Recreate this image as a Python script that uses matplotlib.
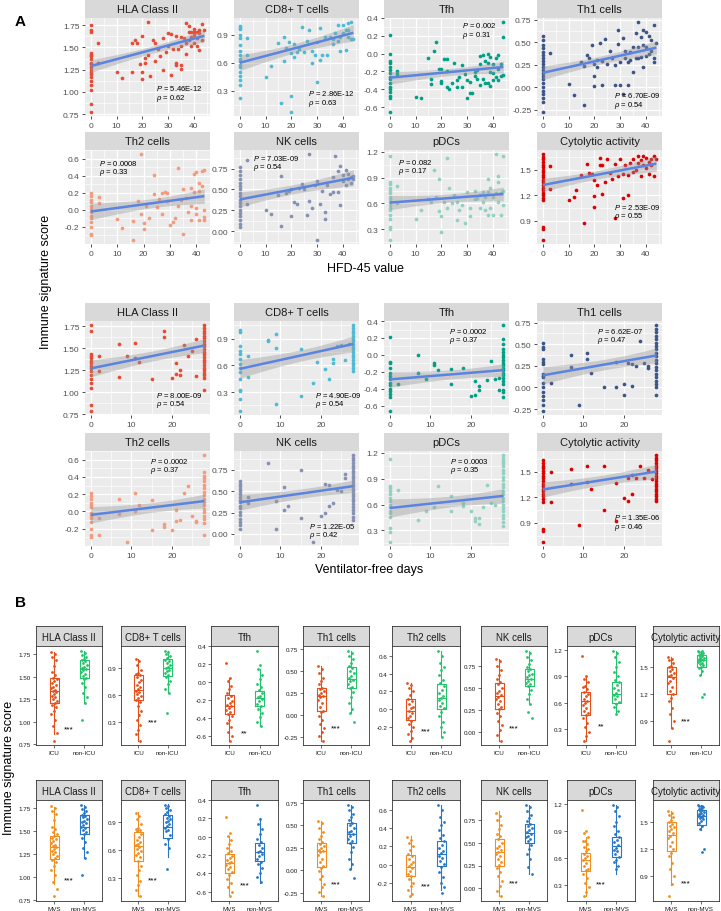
import numpy as np
import matplotlib
matplotlib.use("Agg")
import matplotlib.pyplot as plt
from matplotlib.ticker import FixedLocator, FormatStrFormatter

plt.rcParams["font.family"] = ["Liberation Sans", "DejaVu Sans"]
plt.rcParams["mathtext.fontset"] = "custom"
plt.rcParams["mathtext.it"] = "Liberation Sans:italic"
plt.rcParams["mathtext.rm"] = "Liberation Sans"
plt.rcParams["axes.unicode_minus"] = False

# ---------------------------------------------------------------------------
# Data
# ---------------------------------------------------------------------------

SIGNATURES = ["HLA Class II", "CD8+ T cells", "Tfh", "Th1 cells",
              "Th2 cells", "NK cells", "pDCs", "Cytolytic activity"]
SIG_COLORS = ["#E64B35", "#4DBBD5", "#00A087", "#3C5488",
              "#F39B7F", "#8491B4", "#91D1C2", "#DC0000"]

# --- HFD-45 value vs score: y values at x=0, plus other (x, y) points
HFD_HLA_AT0 = [1.75, 1.69, 1.67, 1.44, 1.42, 1.40, 1.37, 1.33, 1.31, 1.28, 1.25,
               1.22, 1.20, 1.17, 1.12, 1.08, 1.02, 0.86, 0.78]
HFD_HLA_PTS = [(3, 1.55), (3, 1.33), (10, 1.22), (12, 1.16), (16, 1.55), (16, 1.22),
               (17, 1.58), (18, 1.55), (19, 1.31), (20, 1.63), (20, 1.22), (20, 1.15),
               (21, 1.33), (21, 1.38), (22, 1.78), (22, 1.42), (23, 1.18), (24, 1.58),
               (25, 1.55), (25, 1.35), (26, 1.48), (27, 1.40), (28, 1.60), (28, 1.25),
               (29, 1.45), (30, 1.66), (30, 1.52), (31, 1.65), (31, 1.19), (32, 1.48),
               (33, 1.63), (33, 1.33), (33, 1.30), (34, 1.48), (35, 1.62), (35, 1.52),
               (35, 1.30), (35, 1.26), (36, 1.60), (37, 1.77), (37, 1.55), (37, 1.43),
               (38, 1.74), (38, 1.67), (38, 1.58), (39, 1.67), (39, 1.62), (39, 1.52),
               (40, 1.71), (40, 1.67), (40, 1.64), (40, 1.55), (41, 1.67), (41, 1.60),
               (41, 1.52), (42, 1.69), (42, 1.66), (42, 1.47), (43, 1.76), (43, 1.58),
               (44, 1.70)]

HFD_CD8_AT0 = [0.99, 0.97, 0.96, 0.90, 0.86, 0.79, 0.73, 0.68, 0.64, 0.62, 0.58,
               0.55, 0.50, 0.46, 0.42, 0.36, 0.22]
HFD_CD8_PTS = [(3, 0.86), (3, 0.68), (10, 0.45), (12, 0.57), (15, 0.81), (16, 0.17),
               (17, 0.88), (17, 0.62), (18, 0.76), (19, 0.82), (20, 0.70), (20, 0.25),
               (20, 0.08), (21, 0.80), (21, 0.66), (22, 0.72), (23, 0.75), (24, 0.98),
               (25, 0.71), (26, 0.83), (27, 0.95), (28, 0.73), (28, 0.60), (29, 0.68),
               (30, 0.82), (30, 0.40), (31, 0.63), (31, 0.97), (32, 0.68), (33, 0.87),
               (34, 0.68), (35, 0.88), (36, 0.85), (36, 0.80), (37, 0.92), (38, 0.83),
               (38, 1.00), (39, 0.88), (39, 0.73), (40, 0.92), (40, 1.00), (41, 0.95),
               (41, 0.74), (42, 1.02), (42, 0.88), (42, 0.95), (43, 1.03), (43, 0.85),
               (44, 0.85)]

HFD_TFH_AT0 = [0.21, 0.0, -0.08, -0.11, -0.15, -0.18, -0.22, -0.26, -0.29, -0.33,
               -0.37, -0.40, -0.43, -0.47, -0.50, -0.65]
HFD_TFH_PTS = [(3, -0.20), (3, -0.23), (10, -0.49), (12, -0.50), (15, -0.05), (16, -0.28),
               (16, -0.34), (17, 0.03), (18, 0.13), (19, -0.17), (20, -0.17), (20, -0.31),
               (20, -0.33), (21, -0.06), (22, -0.06), (22, -0.20), (22, -0.37), (23, -0.40),
               (24, -0.33), (25, -0.11), (26, -0.30), (26, -0.37), (27, -0.26), (28, -0.13),
               (28, -0.38), (29, -0.23), (30, -0.30), (30, -0.50), (31, -0.32), (31, -0.44),
               (32, -0.44), (33, -0.21), (33, -0.25), (34, -0.18), (34, -0.29), (35, -0.03),
               (35, -0.12), (35, -0.35), (36, -0.02), (36, -0.28), (37, -0.08), (37, -0.33),
               (38, 0.0), (38, -0.11), (38, -0.33), (39, -0.04), (39, -0.21), (39, -0.36),
               (40, -0.12), (40, -0.22), (40, -0.30), (41, -0.05), (41, -0.26), (42, -0.01),
               (42, -0.17), (42, -0.30), (43, -0.12), (43, -0.25), (44, 0.35), (44, 0.19),
               (44, -0.24)]

HFD_TH1_AT0 = [0.57, 0.53, 0.47, 0.44, 0.39, 0.36, 0.32, 0.29, 0.26, 0.22, 0.19,
               0.16, 0.13, 0.09, 0.05, 0.0, -0.04, -0.08, -0.12, -0.16, -0.27]
HFD_TH1_PTS = [(3, 0.38), (10, 0.04), (12, -0.09), (15, 0.28), (16, 0.24), (16, -0.20),
               (17, 0.36), (18, 0.33), (19, 0.47), (20, 0.26), (20, 0.13), (20, 0.01),
               (21, 0.30), (21, 0.23), (22, 0.49), (23, 0.03), (23, 0.29), (24, 0.54),
               (25, 0.26), (26, 0.40), (27, 0.33), (28, 0.25), (28, 0.02), (29, 0.64),
               (29, 0.48), (30, 0.28), (30, 0.02), (31, 0.55), (31, -0.07), (32, 0.33),
               (32, 0.40), (33, 0.28), (33, 0.02), (34, 0.39), (34, 0.30), (35, 0.17),
               (35, 0.45), (36, 0.32), (36, 0.60), (37, 0.72), (37, 0.45), (37, 0.33),
               (38, 0.56), (38, 0.34), (39, 0.64), (39, 0.47), (39, 0.22), (40, 0.61),
               (40, 0.45), (40, 0.35), (41, 0.57), (41, 0.37), (42, 0.52), (42, 0.40),
               (43, 0.69), (43, 0.33), (43, 0.28), (44, 0.49)]

HFD_TH2_AT0 = [0.20, 0.16, 0.12, 0.09, 0.04, 0.01, -0.02, -0.07, -0.10, -0.14,
               -0.20, -0.28, -0.30]
HFD_TH2_PTS = [(3, 0.15), (3, 0.08), (10, -0.11), (12, -0.21), (16, -0.35), (16, -0.13),
               (18, 0.10), (19, 0.65), (19, -0.05), (20, -0.22), (20, -0.15), (21, 0.05),
               (22, -0.10), (24, 0.41), (24, 0.19), (25, 0.03), (26, 0.13), (27, -0.05),
               (27, 0.20), (28, 0.21), (29, 0.20), (29, 0.10), (30, -0.18), (31, -0.14),
               (32, -0.10), (33, 0.49), (33, 0.05), (34, 0.12), (35, 0.24), (35, -0.28),
               (36, 0.14), (37, -0.02), (38, 0.26), (38, 0.05), (38, -0.12), (39, 0.42),
               (39, 0.21), (40, 0.44), (40, -0.05), (40, 0.02), (41, 0.31), (41, 0.22),
               (41, -0.12), (42, 0.45), (42, 0.28), (43, 0.47), (43, 0.0), (43, -0.08),
               (43, -0.12)]

HFD_NK_AT0 = [0.77, 0.72, 0.67, 0.63, 0.58, 0.54, 0.50, 0.46, 0.42, 0.38, 0.34,
              0.30, 0.26, 0.22, 0.18, 0.13, 0.09, 0.05]
HFD_NK_PTS = [(3, 0.85), (3, 0.33), (10, 0.25), (12, 0.21), (15, 0.43), (16, 0.06),
              (16, 0.66), (18, 0.46), (19, 0.48), (20, 0.18), (20, 0.50), (21, 0.35),
              (22, 0.33), (23, 0.52), (24, 0.56), (25, 0.50), (26, 0.20), (27, 0.36),
              (27, 0.92), (28, 0.28), (29, 0.55), (30, -0.10), (30, 0.60), (31, 0.33),
              (32, 0.48), (33, 0.23), (33, 0.15), (34, 0.55), (35, 0.45), (36, 0.47),
              (36, 0.65), (37, 0.90), (38, 0.47), (38, 0.72), (39, 0.31), (39, 0.78),
              (40, 0.60), (40, 0.67), (41, 0.55), (41, 0.73), (42, 0.62), (42, 0.68),
              (43, 0.58), (43, 0.65), (44, 0.66), (44, 0.62)]

HFD_PDC_AT0 = [1.15, 0.85, 0.82, 0.78, 0.75, 0.72, 0.68, 0.65, 0.62, 0.58, 0.55,
               0.52, 0.47, 0.42, 0.33, 0.30, 0.18]
HFD_PDC_PTS = [(3, 0.80), (3, 0.60), (10, 0.42), (12, 0.52), (15, 0.65), (16, 0.62),
               (17, 0.99), (18, 0.68), (19, 0.88), (19, 0.51), (20, 0.45), (20, 0.27),
               (21, 0.62), (22, 1.13), (22, 0.55), (23, 0.78), (24, 0.60), (25, 0.70),
               (26, 0.62), (26, 0.41), (27, 0.53), (28, 0.58), (29, 0.37), (30, 0.73),
               (31, 0.46), (31, 0.55), (33, 0.65), (33, 0.75), (34, 0.66), (35, 0.70),
               (35, 0.55), (36, 0.62), (36, 0.73), (37, 0.68), (37, 0.52), (38, 0.47),
               (38, 0.73), (38, 0.88), (39, 0.55), (39, 0.78), (40, 0.68), (40, 0.47),
               (41, 1.17), (41, 0.72), (42, 0.85), (42, 0.62), (42, 0.92), (43, 0.47),
               (43, 0.72), (44, 1.15), (44, 0.58), (44, 0.75)]

HFD_CYT_AT0 = [1.68, 1.65, 1.62, 1.59, 1.56, 1.53, 1.50, 1.47, 1.44, 1.41, 1.38,
               1.35, 1.32, 1.29, 1.26, 1.23, 1.20, 1.17, 1.14, 0.83, 0.81, 0.68]
HFD_CYT_PTS = [(3, 1.54), (3, 1.27), (10, 1.15), (12, 1.18), (13, 1.26), (15, 1.44),
               (16, 0.87), (17, 1.57), (18, 1.46), (19, 1.45), (20, 1.38), (20, 1.19),
               (20, 1.06), (21, 1.32), (22, 1.64), (22, 1.55), (23, 1.22), (23, 1.56),
               (24, 1.35), (25, 1.62), (26, 1.46), (27, 1.39), (28, 1.57), (28, 0.93),
               (29, 1.42), (30, 1.62), (31, 1.17), (31, 1.45), (32, 1.55), (33, 1.20),
               (33, 1.44), (34, 1.58), (35, 1.62), (35, 1.47), (36, 1.50), (37, 1.66),
               (37, 1.58), (38, 1.42), (38, 1.61), (39, 1.56), (39, 1.66), (40, 1.52),
               (40, 1.64), (41, 1.59), (41, 1.45), (42, 1.62), (42, 1.55), (43, 1.66),
               (43, 1.43), (44, 1.63)]

# fitted line value at x=0 and at x=max, as drawn
HFD_FIT = [(1.29, 1.63), (0.60, 0.92), (-0.27, -0.15), (0.16, 0.44),
           (-0.02, 0.16), (0.38, 0.64), (0.61, 0.71), (1.32, 1.57)]
HFD_P = ["5.46E-12", "2.86E-12", "0.002", "6.70E-09", "0.0008", "7.03E-09", "0.082", "2.53E-09"]
HFD_RHO = ["0.62", "0.63", "0.31", "0.54", "0.33", "0.54", "0.17", "0.55"]

# --- Ventilator-free days vs score: y at x=0, y at x=28, other (x, y) points
VFD_HLA_AT0 = [1.76, 1.70, 1.43, 1.41, 1.39, 1.36, 1.33, 1.30, 1.27, 1.24, 1.20,
               1.15, 1.10, 1.05, 0.86, 0.79]
VFD_HLA_AT28 = [1.76, 1.73, 1.70, 1.67, 1.64, 1.61, 1.58, 1.55, 1.52, 1.49, 1.46,
                1.43, 1.40, 1.37, 1.34, 1.31, 1.28, 1.25, 1.22, 1.19, 1.16, 1.03]
VFD_HLA_PTS = [(2, 1.41), (2, 1.24), (7, 1.55), (7, 1.17), (9, 1.41), (11, 1.56),
               (11, 1.39), (12, 1.34), (15, 1.15), (18, 1.70), (18, 1.63), (20, 1.16),
               (21, 1.21), (21, 1.33), (22, 1.25), (22, 1.19), (23, 1.54), (24, 1.41),
               (25, 1.47), (26, 1.60), (26, 1.18)]

VFD_CD8_AT0 = [1.00, 0.98, 0.82, 0.76, 0.73, 0.67, 0.62, 0.57, 0.53, 0.45, 0.32,
               0.31, 0.22, 0.09]
VFD_CD8_AT28 = [1.05, 1.02, 0.99, 0.96, 0.93, 0.90, 0.87, 0.84, 0.81, 0.78, 0.75,
                0.72, 0.69, 0.66, 0.63, 0.60, 0.57, 0.54]
VFD_CD8_PTS = [(2, 0.71), (2, 0.47), (7, 0.88), (7, 0.87), (9, 0.95), (9, 0.80),
               (9, 0.16), (15, 0.25), (15, 0.78), (18, 0.40), (19, 0.64), (21, 0.56),
               (22, 0.45), (23, 0.67), (23, 0.63), (24, 0.82), (25, 0.83), (26, 0.66),
               (27, 0.84)]

VFD_TFH_AT0 = [0.21, -0.08, -0.10, -0.16, -0.22, -0.25, -0.28, -0.33, -0.36, -0.40,
               -0.43, -0.46, -0.50, -0.66]
VFD_TFH_AT28 = [0.35, 0.19, 0.13, 0.07, 0.03, 0.0, -0.03, -0.06, -0.09, -0.12,
                -0.15, -0.18, -0.21, -0.24, -0.27, -0.31, -0.35, -0.41, -0.44, -0.50]
VFD_TFH_PTS = [(2, -0.35), (7, 0.0), (7, -0.22), (9, -0.28), (11, -0.09), (11, -0.12),
               (12, -0.18), (15, -0.17), (15, -0.35), (18, -0.16), (20, -0.49), (21, -0.48),
               (21, -0.31), (22, -0.41), (22, -0.37), (24, -0.30), (25, -0.07), (26, -0.29),
               (27, -0.27), (27, -0.41)]

VFD_TH1_AT0 = [0.51, 0.47, 0.44, 0.33, 0.30, 0.27, 0.15, 0.13, 0.12, 0.05, 0.0,
               -0.05, -0.10, -0.15, -0.20, -0.27]
VFD_TH1_AT28 = [0.72, 0.68, 0.64, 0.60, 0.56, 0.52, 0.48, 0.44, 0.40, 0.36, 0.32,
                0.28, 0.24, 0.20, 0.16, 0.12, 0.08, 0.04, 0.0, -0.09]
VFD_TH1_PTS = [(2, 0.05), (7, 0.38), (7, 0.24), (9, -0.20), (11, 0.40), (11, 0.33),
               (12, 0.17), (15, 0.0), (18, 0.01), (18, 0.30), (20, 0.04), (20, -0.09),
               (21, 0.28), (22, 0.27), (22, 0.02), (23, 0.25), (24, 0.54), (25, 0.28),
               (26, 0.25), (26, 0.23)]

VFD_TH2_AT0 = [0.21, 0.18, 0.14, 0.10, 0.08, 0.05, -0.02, -0.05, -0.08, -0.12,
               -0.20, -0.27, -0.30]
VFD_TH2_AT28 = [0.65, 0.46, 0.41, 0.39, 0.35, 0.31, 0.27, 0.23, 0.19, 0.15, 0.11,
                0.07, 0.03, -0.01, -0.05, -0.09, -0.13, -0.27]
VFD_TH2_PTS = [(2, -0.07), (2, -0.27), (7, 0.15), (7, -0.03), (9, -0.35), (11, 0.21),
               (11, 0.0), (12, 0.07), (15, 0.13), (15, -0.21), (18, -0.14), (18, -0.18),
               (20, -0.21), (21, 0.02), (21, -0.11), (22, -0.10), (23, 0.21), (24, 0.29),
               (25, -0.05), (26, -0.12), (26, -0.11)]

VFD_NK_AT0 = [0.62, 0.59, 0.56, 0.53, 0.50, 0.47, 0.43, 0.40, 0.37, 0.33, 0.30,
              0.26, 0.22, 0.18, 0.14, 0.10, 0.06]
VFD_NK_AT28 = [0.92, 0.89, 0.86, 0.83, 0.80, 0.77, 0.74, 0.71, 0.68, 0.65, 0.62,
               0.59, 0.56, 0.53, 0.50, 0.47, 0.44, 0.41, 0.38, 0.35, 0.32, 0.28,
               0.24, 0.20, 0.16]
VFD_NK_PTS = [(2, 0.43), (2, 0.36), (7, 0.83), (9, 0.39), (9, 0.06), (11, 0.55),
              (11, 0.28), (12, 0.33), (15, 0.75), (15, 0.19), (18, -0.09), (20, 0.21),
              (21, 0.25), (21, 0.58), (22, 0.57), (22, 0.33), (23, 0.36), (24, 0.52),
              (25, 0.50), (26, 0.70), (26, 0.65)]

VFD_PDC_AT0 = [1.13, 0.82, 0.79, 0.76, 0.72, 0.68, 0.64, 0.60, 0.57, 0.53, 0.50,
               0.46, 0.33, 0.28, 0.17]
VFD_PDC_AT28 = [1.17, 1.14, 1.11, 1.08, 1.05, 1.00, 0.96, 0.92, 0.88, 0.84, 0.80,
                0.76, 0.72, 0.68, 0.64, 0.60, 0.56, 0.52, 0.48, 0.44, 0.40, 0.35]
VFD_PDC_PTS = [(2, 0.77), (7, 0.42), (9, 0.52), (11, 0.57), (12, 0.81), (15, 0.70),
               (15, 0.52), (18, 0.62), (18, 0.58), (20, 0.52), (21, 0.45), (21, 0.41),
               (22, 0.45), (22, 0.37), (23, 0.57), (24, 0.83), (25, 0.62), (26, 0.60)]

VFD_CYT_AT0 = [1.63, 1.60, 1.57, 1.54, 1.51, 1.48, 1.45, 1.42, 1.39, 1.36, 1.33,
               1.30, 1.27, 1.24, 1.21, 1.18, 1.14, 0.83, 0.81, 0.68]
VFD_CYT_AT28 = [1.69, 1.66, 1.63, 1.60, 1.57, 1.54, 1.51, 1.48, 1.45, 1.42, 1.39,
                1.36, 1.33, 1.30, 1.27, 1.24, 1.21, 1.18, 1.15]
VFD_CYT_PTS = [(2, 1.49), (2, 1.14), (7, 1.53), (7, 1.35), (9, 0.87), (11, 1.57),
               (11, 1.38), (12, 1.30), (15, 1.57), (15, 1.05), (18, 1.37), (18, 0.92),
               (20, 1.19), (21, 1.15), (21, 1.43), (22, 1.24), (22, 1.46), (23, 1.42),
               (24, 1.57), (25, 1.42), (26, 1.52), (27, 1.41)]

VFD_MAX = 28
VFD_FIT = [(1.27, 1.53), (0.56, 0.84), (-0.29, -0.18), (0.14, 0.37),
           (-0.04, 0.12), (0.37, 0.56), (0.56, 0.70), (1.29, 1.50)]
VFD_P = ["8.00E-09", "4.90E-09", "0.0002", "6.62E-07", "0.0002", "1.22E-05", "0.0003", "1.35E-06"]
VFD_RHO = ["0.54", "0.54", "0.37", "0.47", "0.37", "0.42", "0.35", "0.46"]

# --- Panel B: box statistics (whislo, q1, median, q3, whishi)
ICU_BOX = [(0.86, 1.21, 1.34, 1.48, 1.77), (0.10, 0.545, 0.655, 0.826, 1.00),
           (-0.65, -0.35, -0.27, -0.14, 0.04), (-0.29, 0.045, 0.22, 0.305, 0.55),
           (-0.35, -0.125, -0.015, 0.115, 0.30), (-0.09, 0.26, 0.405, 0.56, 0.83),
           (0.17, 0.46, 0.62, 0.72, 0.90), (0.82, 1.20, 1.395, 1.50, 1.62)]
NONICU_BOX = [(1.21, 1.48, 1.59, 1.68, 1.79), (0.62, 0.81, 0.90, 1.00, 1.09),
              (-0.49, -0.27, -0.18, -0.10, 0.14), (0.02, 0.30, 0.41, 0.545, 0.73),
              (-0.31, 0.00, 0.13, 0.28, 0.66), (0.32, 0.52, 0.60, 0.71, 0.92),
              (0.47, 0.59, 0.70, 0.83, 1.19), (1.42, 1.51, 1.58, 1.64, 1.69)]
MVS_BOX = [(0.92, 1.195, 1.33, 1.445, 1.76), (0.10, 0.48, 0.645, 0.79, 1.01),
           (-0.64, -0.39, -0.29, -0.19, 0.01), (-0.28, 0.04, 0.215, 0.30, 0.55),
           (-0.34, -0.12, -0.03, 0.105, 0.31), (-0.08, 0.25, 0.40, 0.545, 0.85),
           (0.18, 0.45, 0.57, 0.65, 0.83), (0.81, 1.18, 1.36, 1.50, 1.62)]
NONMVS_BOX = [(1.21, 1.47, 1.55, 1.68, 1.79), (0.52, 0.73, 0.845, 0.98, 1.10),
              (-0.50, -0.26, -0.17, -0.07, 0.20), (0.02, 0.30, 0.40, 0.52, 0.73),
              (-0.28, -0.02, 0.12, 0.26, 0.66), (0.16, 0.50, 0.61, 0.71, 0.92),
              (0.42, 0.61, 0.73, 0.83, 1.18), (1.41, 1.47, 1.56, 1.63, 1.69)]

# jittered sample values, severe (ICU / MVS) and mild (non-ICU / non-MVS)
SEV_HLA = [1.77, 1.75, 1.72, 1.69, 1.62, 1.55, 1.52, 1.49, 1.47, 1.45, 1.43, 1.41, 1.39, 1.37,
           1.35, 1.34, 1.33, 1.31, 1.29, 1.27, 1.25, 1.23, 1.21, 1.19, 1.16, 1.12, 1.08, 1.02,
           0.95, 0.87, 0.79]
MILD_HLA = [1.79, 1.76, 1.74, 1.72, 1.70, 1.68, 1.67, 1.65, 1.63, 1.61, 1.60, 1.59, 1.57, 1.55,
            1.53, 1.51, 1.49, 1.47, 1.43, 1.38, 1.32, 1.27, 1.21, 1.02]
SEV_CD8 = [1.0, 0.97, 0.93, 0.88, 0.84, 0.83, 0.82, 0.80, 0.77, 0.74, 0.71, 0.69, 0.67, 0.65,
           0.63, 0.61, 0.59, 0.57, 0.55, 0.52, 0.48, 0.43, 0.38, 0.33, 0.27, 0.22, 0.17, 0.10]
MILD_CD8 = [1.09, 1.07, 1.05, 1.03, 1.01, 0.99, 0.97, 0.95, 0.93, 0.91, 0.90, 0.88, 0.86, 0.84,
            0.82, 0.80, 0.76, 0.72, 0.67, 0.62, 0.40]
SEV_TFH = [0.21, 0.04, 0.01, -0.04, -0.08, -0.12, -0.15, -0.18, -0.21, -0.23, -0.25, -0.27,
           -0.29, -0.31, -0.33, -0.35, -0.38, -0.42, -0.46, -0.50, -0.55, -0.60, -0.65]
MILD_TFH = [0.35, 0.19, 0.14, 0.08, 0.03, -0.02, -0.06, -0.09, -0.12, -0.15, -0.17, -0.19,
            -0.21, -0.24, -0.27, -0.30, -0.34, -0.39, -0.44, -0.49]
SEV_TH1 = [0.55, 0.52, 0.47, 0.42, 0.38, 0.35, 0.31, 0.29, 0.27, 0.25, 0.23, 0.22, 0.20, 0.17,
           0.13, 0.09, 0.05, 0.03, -0.01, -0.06, -0.10, -0.15, -0.19, -0.24, -0.29]
MILD_TH1 = [0.73, 0.70, 0.67, 0.63, 0.59, 0.56, 0.53, 0.50, 0.47, 0.44, 0.42, 0.40, 0.38, 0.35,
            0.32, 0.30, 0.26, 0.20, 0.13, 0.07, 0.02, -0.08]
SEV_TH2 = [0.30, 0.27, 0.24, 0.20, 0.16, 0.12, 0.09, 0.06, 0.03, 0.01, -0.02, -0.04, -0.07,
           -0.10, -0.13, -0.16, -0.20, -0.24, -0.28, -0.32, -0.35]
MILD_TH2 = [0.66, 0.60, 0.52, 0.47, 0.44, 0.38, 0.33, 0.29, 0.26, 0.22, 0.18, 0.15, 0.13, 0.10,
            0.07, 0.04, 0.01, -0.03, -0.08, -0.14, -0.20, -0.25, -0.31]
SEV_NK = [0.83, 0.80, 0.75, 0.70, 0.65, 0.60, 0.57, 0.54, 0.50, 0.47, 0.44, 0.42, 0.40, 0.38,
          0.35, 0.32, 0.29, 0.26, 0.22, 0.18, 0.13, 0.08, 0.03, -0.03, -0.09]
MILD_NK = [0.92, 0.89, 0.85, 0.81, 0.77, 0.74, 0.71, 0.69, 0.66, 0.64, 0.62, 0.60, 0.58, 0.56,
           0.54, 0.52, 0.48, 0.43, 0.38, 0.32, 0.23, 0.16]
SEV_PDC = [1.13, 0.90, 0.87, 0.83, 0.79, 0.78, 0.75, 0.72, 0.70, 0.67, 0.64, 0.62, 0.60, 0.57,
           0.54, 0.51, 0.48, 0.46, 0.42, 0.37, 0.32, 0.27, 0.22, 0.17]
MILD_PDC = [1.19, 1.16, 1.12, 1.06, 1.00, 0.95, 0.90, 0.86, 0.83, 0.80, 0.77, 0.74, 0.71, 0.69,
            0.67, 0.64, 0.61, 0.58, 0.55, 0.51, 0.47]
SEV_CYT = [1.62, 1.60, 1.58, 1.55, 1.52, 1.50, 1.48, 1.46, 1.44, 1.42, 1.40, 1.38, 1.35, 1.32,
           1.28, 1.24, 1.20, 1.16, 1.12, 1.05, 0.98, 0.90, 0.82, 0.68]
MILD_CYT = [1.69, 1.68, 1.67, 1.66, 1.65, 1.64, 1.63, 1.62, 1.61, 1.60, 1.59, 1.58, 1.57, 1.56,
            1.55, 1.54, 1.53, 1.51, 1.49, 1.46, 1.42, 1.20, 1.17]

ICU_SIG = ["***", "***", "**", "***", "***", "***", "**", "***"]
ICU_SIG_Y = [0.92, 0.30, -0.56, -0.15, -0.24, 0.05, 0.34, 0.90]
MVS_SIG = ["***", "***", "***", "***", "***", "***", "***", "***"]
MVS_SIG_Y = [0.97, 0.28, -0.52, -0.15, -0.23, 0.06, 0.31, 0.83]

# y tick positions and decimals per signature
YTICKS = [[0.75, 1.0, 1.25, 1.5, 1.75], [0.3, 0.6, 0.9], [-0.6, -0.4, -0.2, 0.0, 0.2, 0.4],
          [-0.25, 0.0, 0.25, 0.5, 0.75], [-0.2, 0.0, 0.2, 0.4, 0.6], [0.0, 0.25, 0.5, 0.75],
          [0.3, 0.6, 0.9, 1.2], [0.9, 1.2, 1.5]]
YDEC = [2, 1, 1, 2, 1, 2, 1, 1]

# ---------------------------------------------------------------------------
# Layout (pixels)
# ---------------------------------------------------------------------------

W, H = 721, 912
fig = plt.figure(figsize=(W / 100, H / 100), dpi=100)

A_COLS = [(85, 210), (234, 359), (384, 509), (537, 662)]
A_ROWS = [(19, 117), (151, 245), (322, 416), (452, 547)]
B_COLS = [(36, 102), (121, 185), (211, 278), (303, 369),
          (392, 460), (481, 547), (567, 635), (653, 719)]
B_ROWS = [(647, 746), (801, 902)]

# text anchor (axes fraction) for the P / rho annotation
HFD_TXT = [(0.57, 0.29), (0.59, 0.24), (0.62, 0.93), (0.62, 0.22),
           (0.11, 0.87), (0.15, 0.92), (0.11, 0.88), (0.62, 0.40)]
VFD_TXT = [(0.57, 0.22), (0.65, 0.22), (0.52, 0.90), (0.48, 0.90),
           (0.52, 0.905), (0.60, 0.22), (0.53, 0.905), (0.62, 0.31)]


def px_axes(x0, y0, x1, y1):
    return fig.add_axes([x0 / W, 1 - y1 / H, (x1 - x0) / W, (y1 - y0) / H])


def padded(lo, hi, frac=0.05):
    r = hi - lo
    return lo - frac * r, hi + frac * r


def minor_between(ticks):
    step = ticks[1] - ticks[0]
    return [ticks[0] - step / 2] + [t + step / 2 for t in ticks]


def scatter_panel(box, title, x, y, color, yticks, ydec, xticks, fit, ptxt, rtxt, tpos):
    (x0, x1), (y0, y1) = box
    strip = px_axes(x0, y0 - 18.5, x1, y0)
    strip.set_facecolor("#D9D9D9")
    strip.set_xticks([])
    strip.set_yticks([])
    for s in strip.spines.values():
        s.set_visible(False)
    strip.text(0.5, 0.48, title, ha="center", va="center", fontsize=8, color="#1A1A1A",
               transform=strip.transAxes)

    ax = px_axes(x0, y0, x1, y1)
    ax.set_facecolor("#EBEBEB")
    for s in ax.spines.values():
        s.set_visible(False)
    x = np.asarray(x, float)
    y = np.asarray(y, float)
    ax.set_xlim(*padded(x.min(), x.max()))
    ax.set_ylim(*padded(y.min(), y.max()))
    ax.xaxis.set_major_locator(FixedLocator(xticks))
    ax.xaxis.set_minor_locator(FixedLocator(minor_between(xticks)))
    ax.yaxis.set_major_locator(FixedLocator(yticks))
    ax.yaxis.set_minor_locator(FixedLocator(minor_between(yticks)))
    ax.yaxis.set_major_formatter(FormatStrFormatter("%%.%df" % ydec))
    ax.grid(which="major", color="white", lw=0.9)
    ax.grid(which="minor", color="white", lw=0.45)
    ax.set_axisbelow(True)
    ax.tick_params(which="major", length=2.5, width=0.6, color="#333333",
                   labelsize=6, labelcolor="#4D4D4D", pad=1.5)
    ax.tick_params(which="minor", length=0)

    ax.scatter(x, y, s=7, color=color, lw=0, zorder=3)

    # fitted line (as drawn in the figure) with a 95% band from the residuals
    xmin, xmax = x.min(), x.max()
    b = (fit[1] - fit[0]) / (xmax - xmin)
    a = fit[0] - b * xmin
    n = len(x)
    xg = np.linspace(xmin, xmax, 100)
    yg = a + b * xg
    s = np.sqrt(np.sum((y - (a + b * x)) ** 2) / (n - 2))
    se = s * np.sqrt(1 / n + (xg - x.mean()) ** 2 / np.sum((x - x.mean()) ** 2))
    ax.fill_between(xg, yg - 1.98 * se, yg + 1.98 * se, color="#999999", alpha=0.4,
                    lw=0, zorder=4)
    ax.plot(xg, yg, color="#5A83E2", lw=1.8, zorder=5, solid_capstyle="butt")

    tx, ty = tpos
    ax.text(tx, ty, r"$P$ = " + ptxt, transform=ax.transAxes, fontsize=5.5,
            va="center", zorder=6)
    ax.text(tx, ty - 0.10, r"$\rho$ = " + rtxt, transform=ax.transAxes, fontsize=5.5,
            va="center", zorder=6)
    return ax


def assemble(at0, pts, at_max=None, xmax=None):
    xs = [0] * len(at0) + [p[0] for p in pts]
    ys = list(at0) + [p[1] for p in pts]
    if at_max is not None:
        xs += [xmax] * len(at_max)
        ys += list(at_max)
    return xs, ys


HFD_DATA = [(HFD_HLA_AT0, HFD_HLA_PTS), (HFD_CD8_AT0, HFD_CD8_PTS),
            (HFD_TFH_AT0, HFD_TFH_PTS), (HFD_TH1_AT0, HFD_TH1_PTS),
            (HFD_TH2_AT0, HFD_TH2_PTS), (HFD_NK_AT0, HFD_NK_PTS),
            (HFD_PDC_AT0, HFD_PDC_PTS), (HFD_CYT_AT0, HFD_CYT_PTS)]
VFD_DATA = [(VFD_HLA_AT0, VFD_HLA_PTS, VFD_HLA_AT28), (VFD_CD8_AT0, VFD_CD8_PTS, VFD_CD8_AT28),
            (VFD_TFH_AT0, VFD_TFH_PTS, VFD_TFH_AT28), (VFD_TH1_AT0, VFD_TH1_PTS, VFD_TH1_AT28),
            (VFD_TH2_AT0, VFD_TH2_PTS, VFD_TH2_AT28), (VFD_NK_AT0, VFD_NK_PTS, VFD_NK_AT28),
            (VFD_PDC_AT0, VFD_PDC_PTS, VFD_PDC_AT28), (VFD_CYT_AT0, VFD_CYT_PTS, VFD_CYT_AT28)]

for i in range(8):
    r, c = divmod(i, 4)
    xs, ys = assemble(*HFD_DATA[i])
    scatter_panel((A_COLS[c], A_ROWS[r]), SIGNATURES[i], xs, ys, SIG_COLORS[i],
                  YTICKS[i], YDEC[i], [0, 10, 20, 30, 40], HFD_FIT[i],
                  HFD_P[i], HFD_RHO[i], HFD_TXT[i])
    at0, pts, at28 = VFD_DATA[i]
    xs, ys = assemble(at0, pts, at28, VFD_MAX)
    scatter_panel((A_COLS[c], A_ROWS[r + 2]), SIGNATURES[i], xs, ys, SIG_COLORS[i],
                  YTICKS[i], YDEC[i], [0, 10, 20], VFD_FIT[i],
                  VFD_P[i], VFD_RHO[i], VFD_TXT[i])

# ---------------------------------------------------------------------------
# Panel B: box plots
# ---------------------------------------------------------------------------

SEV_PTS = [SEV_HLA, SEV_CD8, SEV_TFH, SEV_TH1, SEV_TH2, SEV_NK, SEV_PDC, SEV_CYT]
MILD_PTS = [MILD_HLA, MILD_CD8, MILD_TFH, MILD_TH1, MILD_TH2, MILD_NK, MILD_PDC, MILD_CYT]

B_GROUPS = [
    (ICU_BOX, NONICU_BOX, ["ICU", "non-ICU"], ["#E5501A", "#22C46C"], ICU_SIG, ICU_SIG_Y),
    (MVS_BOX, NONMVS_BOX, ["MVS", "non-MVS"], ["#F28E1E", "#2677C6"], MVS_SIG, MVS_SIG_Y),
]


def jitter(n, width=0.2):
    return ((np.arange(n) * 0.618034) % 1 - 0.5) * width


def box_panel(box, title, stats, pts, labels, colors, yticks, ydec, sig, sig_y):
    (x0, x1), (y0, y1) = box
    strip = px_axes(x0, y0 - 20, x1, y0)
    strip.set_facecolor("#D9D9D9")
    strip.set_xticks([])
    strip.set_yticks([])
    for s in strip.spines.values():
        s.set_color("#333333")
        s.set_linewidth(0.6)
    strip.text(0.5, 0.47, title, ha="center", va="center", fontsize=7, color="#1A1A1A",
               transform=strip.transAxes, clip_on=False)

    ax = px_axes(x0, y0, x1, y1)
    for s in ax.spines.values():
        s.set_color("#333333")
        s.set_linewidth(0.6)
    allv = np.concatenate([pts[0], pts[1]])
    ax.set_ylim(*padded(allv.min(), allv.max()))
    ax.set_xlim(0.4, 2.6)
    for k in range(2):
        wl, q1, med, q3, wh = stats[k]
        ax.bxp([{"whislo": wl, "q1": q1, "med": med, "q3": q3, "whishi": wh, "fliers": []}],
               positions=[k + 1], widths=0.3, showcaps=False, patch_artist=False,
               boxprops=dict(color=colors[k], lw=0.8),
               whiskerprops=dict(color=colors[k], lw=0.8),
               medianprops=dict(color=colors[k], lw=0.8),
               manage_ticks=False, zorder=2)
        v = np.asarray(pts[k], float)
        ax.scatter(k + 1 + jitter(len(v)), v, s=4, color=colors[k], lw=0, zorder=3)
    ax.text(1.5, sig_y, sig, ha="center", va="center", fontsize=6)
    ax.set_xticks([1, 2])
    ax.set_xticklabels(labels)
    ax.yaxis.set_major_locator(FixedLocator(yticks))
    ax.yaxis.set_major_formatter(FormatStrFormatter("%%.%df" % ydec))
    ax.tick_params(length=2, width=0.5, color="#333333", labelsize=4.5,
                   labelcolor="#1A1A1A", pad=1.5)


for r, (box_a, box_b, labels, colors, sig, sig_y) in enumerate(B_GROUPS):
    for i in range(8):
        box_panel((B_COLS[i], B_ROWS[r]), SIGNATURES[i], (box_a[i], box_b[i]),
                  (SEV_PTS[i], MILD_PTS[i]), labels, colors, YTICKS[i], YDEC[i],
                  sig[i], sig_y[i])

# ---------------------------------------------------------------------------
# Figure labels
# ---------------------------------------------------------------------------

fig.text(20 / W, 1 - 22 / H, "A", fontsize=11, fontweight="bold", ha="center", va="center")
fig.text(20 / W, 1 - 603 / H, "B", fontsize=11, fontweight="bold", ha="center", va="center")
fig.text(46 / W, 1 - 282 / H, "Immune signature score", rotation=90, fontsize=9,
         ha="center", va="center")
fig.text(9 / W, 1 - 768 / H, "Immune signature score", rotation=90, fontsize=9,
         ha="center", va="center")
fig.text(365 / W, 1 - 269 / H, "HFD-45 value", fontsize=9, ha="center", va="center")
fig.text(369 / W, 1 - 570 / H, "Ventilator-free days", fontsize=9, ha="center", va="center")

fig.savefig("out.png", dpi=100)
